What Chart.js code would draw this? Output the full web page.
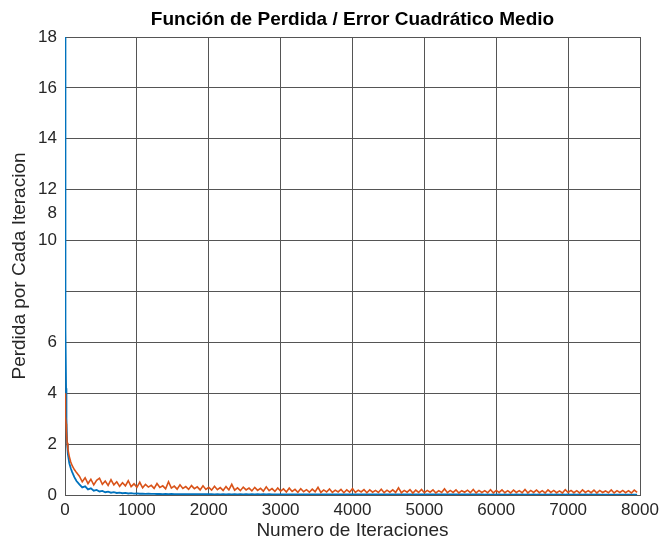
<!DOCTYPE html>
<html lang="es">
<head>
<meta charset="UTF-8">
<title>Función de Perdida</title>
<script src="https://cdn.jsdelivr.net/npm/chart.js@4.4.1/dist/chart.umd.min.js"></script>
<style>
  body { margin: 0; background: #fff; }
  #wrap { width: 668px; height: 543px; }
</style>
</head>
<body>
<div id="wrap"><canvas id="chart-loss"></canvas></div>
<script>
// iteraciones muestreadas
var iteraciones = [
  0, 3, 6, 10, 15, 20, 30, 40, 60, 80, 100, 130, 160,
  200, 240, 280, 320, 360, 400, 440, 480, 520, 560,
  600, 640, 680, 720, 760, 800, 840, 880, 920, 960,
  1000, 1040, 1080, 1120, 1160, 1200, 1240, 1280, 1320, 1360,
  1400, 1440, 1480, 1520, 1560, 1600, 1640, 1680, 1720, 1760,
  1800, 1840, 1880, 1920, 1960, 2000, 2040, 2080, 2120, 2160,
  2200, 2240, 2280, 2320, 2360, 2400, 2440, 2480, 2520, 2560,
  2600, 2640, 2680, 2720, 2760, 2800, 2840, 2880, 2920, 2960,
  3000, 3040, 3080, 3120, 3160, 3200, 3240, 3280, 3320, 3360,
  3400, 3440, 3480, 3520, 3560, 3600, 3640, 3680, 3720, 3760,
  3800, 3840, 3880, 3920, 3960, 4000, 4040, 4080, 4120, 4160,
  4200, 4240, 4280, 4320, 4360, 4400, 4440, 4480, 4520, 4560,
  4600, 4640, 4680, 4720, 4760, 4800, 4840, 4880, 4920, 4960,
  5000, 5040, 5080, 5120, 5160, 5200, 5240, 5280, 5320, 5360,
  5400, 5440, 5480, 5520, 5560, 5600, 5640, 5680, 5720, 5760,
  5800, 5840, 5880, 5920, 5960, 6000, 6040, 6080, 6120, 6160,
  6200, 6240, 6280, 6320, 6360, 6400, 6440, 6480, 6520, 6560,
  6600, 6640, 6680, 6720, 6760, 6800, 6840, 6880, 6920, 6960,
  7000, 7040, 7080, 7120, 7160, 7200, 7240, 7280, 7320, 7360,
  7400, 7440, 7480, 7520, 7560, 7600, 7640, 7680, 7720, 7760,
  7800, 7840, 7880, 7920, 7960
];

// perdida de entrenamiento (azul)
var perdidaAzul = [
  18, 14, 10, 6.5, 4.2, 3.0, 2.0, 1.6, 1.25, 1.05, 0.9, 0.7, 0.55,
  0.42, 0.3, 0.34, 0.22, 0.26, 0.17, 0.2, 0.14, 0.16, 0.11,
  0.13, 0.09, 0.11, 0.08, 0.095, 0.07, 0.08, 0.06, 0.07, 0.055,
  0.06, 0.05, 0.055, 0.045, 0.05, 0.042, 0.047, 0.04, 0.044, 0.038,
  0.042, 0.036, 0.04, 0.035, 0.038, 0.034, 0.037, 0.033, 0.036, 0.032,
  0.034, 0.03, 0.033, 0.029, 0.033, 0.029, 0.032, 0.028, 0.032, 0.028,
  0.031, 0.028, 0.031, 0.027, 0.031, 0.027, 0.03, 0.027, 0.03, 0.026,
  0.03, 0.026, 0.029, 0.026, 0.029, 0.025, 0.029, 0.025, 0.028, 0.025,
  0.028, 0.025, 0.028, 0.024, 0.028, 0.024, 0.027, 0.024, 0.027, 0.024,
  0.027, 0.023, 0.027, 0.023, 0.026, 0.023, 0.026, 0.023, 0.026, 0.022,
  0.026, 0.022, 0.025, 0.022, 0.025, 0.022, 0.025, 0.022, 0.025, 0.021,
  0.025, 0.021, 0.024, 0.021, 0.024, 0.021, 0.024, 0.021, 0.024, 0.021,
  0.024, 0.02, 0.024, 0.02, 0.023, 0.02, 0.023, 0.02, 0.023, 0.02,
  0.023, 0.02, 0.023, 0.02, 0.023, 0.019, 0.022, 0.019, 0.022, 0.019,
  0.022, 0.019, 0.022, 0.019, 0.022, 0.019, 0.022, 0.019, 0.021, 0.019,
  0.021, 0.018, 0.021, 0.018, 0.021, 0.018, 0.021, 0.018, 0.021, 0.018,
  0.021, 0.018, 0.02, 0.018, 0.02, 0.018, 0.02, 0.017, 0.02, 0.017,
  0.02, 0.017, 0.02, 0.017, 0.02, 0.017, 0.02, 0.017, 0.019, 0.017,
  0.019, 0.016, 0.019, 0.016, 0.019, 0.016, 0.019, 0.016, 0.019, 0.016,
  0.019, 0.016, 0.018, 0.016, 0.018, 0.016, 0.018, 0.016, 0.018, 0.015,
  0.018, 0.015, 0.018, 0.015, 0.018
];

// perdida de validacion (naranja)
var perdidaNaranja = [
  4.0, 3.7, 3.4, 3.1, 2.8, 2.5, 2.05, 1.8, 1.5, 1.3, 1.15, 1.0, 0.88,
  0.74, 0.52, 0.68, 0.45, 0.62, 0.4, 0.58, 0.66, 0.42, 0.55,
  0.38, 0.6, 0.4, 0.52, 0.34, 0.48, 0.36, 0.56, 0.33, 0.44,
  0.3, 0.5, 0.28, 0.42, 0.31, 0.38, 0.26, 0.45, 0.3, 0.36,
  0.24, 0.52, 0.27, 0.35, 0.23, 0.4, 0.26, 0.33, 0.22, 0.37,
  0.25, 0.32, 0.2, 0.36, 0.22, 0.3, 0.19, 0.34, 0.21, 0.29,
  0.18, 0.33, 0.2, 0.42, 0.19, 0.28, 0.17, 0.31, 0.2, 0.27,
  0.16, 0.3, 0.18, 0.26, 0.15, 0.32, 0.17, 0.25, 0.14, 0.28,
  0.15, 0.24, 0.12, 0.27, 0.14, 0.22, 0.11, 0.25, 0.13, 0.21,
  0.11, 0.23, 0.13, 0.3, 0.1, 0.2, 0.12, 0.24, 0.1, 0.19,
  0.12, 0.22, 0.09, 0.2, 0.11, 0.25, 0.1, 0.19, 0.12, 0.21,
  0.09, 0.2, 0.11, 0.18, 0.1, 0.23, 0.09, 0.19, 0.11, 0.2,
  0.1, 0.28, 0.09, 0.18, 0.11, 0.21, 0.08, 0.19, 0.1, 0.22,
  0.09, 0.18, 0.11, 0.2, 0.08, 0.17, 0.1, 0.24, 0.09, 0.18,
  0.1, 0.2, 0.08, 0.17, 0.11, 0.19, 0.09, 0.22, 0.08, 0.18,
  0.1, 0.17, 0.09, 0.21, 0.08, 0.18, 0.1, 0.2, 0.09, 0.17,
  0.08, 0.19, 0.1, 0.17, 0.09, 0.22, 0.08, 0.18, 0.1, 0.19,
  0.09, 0.17, 0.08, 0.2, 0.1, 0.18, 0.09, 0.16, 0.08, 0.21,
  0.1, 0.18, 0.09, 0.17, 0.08, 0.2, 0.1, 0.17, 0.09, 0.19,
  0.08, 0.18, 0.1, 0.16, 0.09, 0.2, 0.08, 0.17, 0.1, 0.18,
  0.09, 0.17, 0.08, 0.19, 0.1
];

var ticksY = [0, 2, 4, 6, 8, 10, 12, 14, 16, 18];
var ticksX = [0, 1000, 2000, 3000, 4000, 5000, 6000, 7000, 8000];
var titulo = 'Función de Perdida / Error Cuadrático Medio';

function puntos(ys) {
  return ys.map(function (y, i) { return { x: iteraciones[i], y: y }; });
}

// titulo centrado sobre el area del grafico y la etiqueta "8" desplazada como en el original
var textosExtra = {
  id: 'textosExtra',
  afterDraw: function (chart) {
    var ctx = chart.ctx, area = chart.chartArea, y = chart.scales.y;
    ctx.save();
    ctx.textBaseline = 'middle';
    ctx.font = 'bold 19px "Liberation Sans", Arial, sans-serif';
    ctx.fillStyle = '#000';
    ctx.textAlign = 'center';
    ctx.fillText(titulo, (area.left + area.right) / 2, 20);
    ctx.font = '17px "Liberation Sans", Arial, sans-serif';
    ctx.fillStyle = '#262626';
    ctx.textAlign = 'right';
    ctx.fillText('8', area.left - 8, y.getPixelForValue(11.08));
    ctx.restore();
  }
};

Chart.defaults.font.family = '"Liberation Sans", Arial, sans-serif';
Chart.defaults.color = '#262626';

new Chart(document.getElementById('chart-loss').getContext('2d'), {
  type: 'line',
  data: {
    datasets: [{
      label: 'validacion',
      data: puntos(perdidaNaranja),
      borderColor: '#D95319',
      borderWidth: 1.6,
      pointRadius: 0,
      tension: 0
    }, {
      label: 'entrenamiento',
      data: puntos(perdidaAzul),
      borderColor: '#0072BD',
      borderWidth: 1.8,
      pointRadius: 0,
      tension: 0
    }]
  },
  options: {
    responsive: true,
    maintainAspectRatio: false,
    animation: false,
    layout: { padding: { top: 37, right: 28 } },
    plugins: {
      legend: { display: false },
      tooltip: { enabled: false },
      title: { display: false }
    },
    scales: {
      x: {
        type: 'linear',
        min: 0,
        max: 8000,
        afterBuildTicks: function (s) { s.ticks = ticksX.map(function (v) { return { value: v }; }); },
        afterFit: function (s) { s.height = 48; },
        grid: { color: '#555', drawTicks: false },
        border: { color: '#555' },
        ticks: { padding: 5, font: { size: 17 }, maxRotation: 0, callback: function (v) { return String(v); } },
        title: { display: true, text: 'Numero de Iteraciones', font: { size: 19 }, padding: { top: 0, bottom: 1 } }
      },
      y: {
        min: 0,
        max: 18,
        afterBuildTicks: function (s) { s.ticks = ticksY.map(function (v) { return { value: v }; }); },
        afterFit: function (s) { s.width = 65; },
        grid: { color: '#555', drawTicks: false },
        border: { color: '#555' },
        ticks: {
          padding: 8,
          font: { size: 17 },
          callback: function (v) { return v === 8 ? '' : String(v); }
        },
        title: { display: true, text: 'Perdida por Cada Iteracion', font: { size: 19 }, padding: { top: 8, bottom: 0 } }
      }
    }
  },
  plugins: [textosExtra]
});
</script>
</body>
</html>
